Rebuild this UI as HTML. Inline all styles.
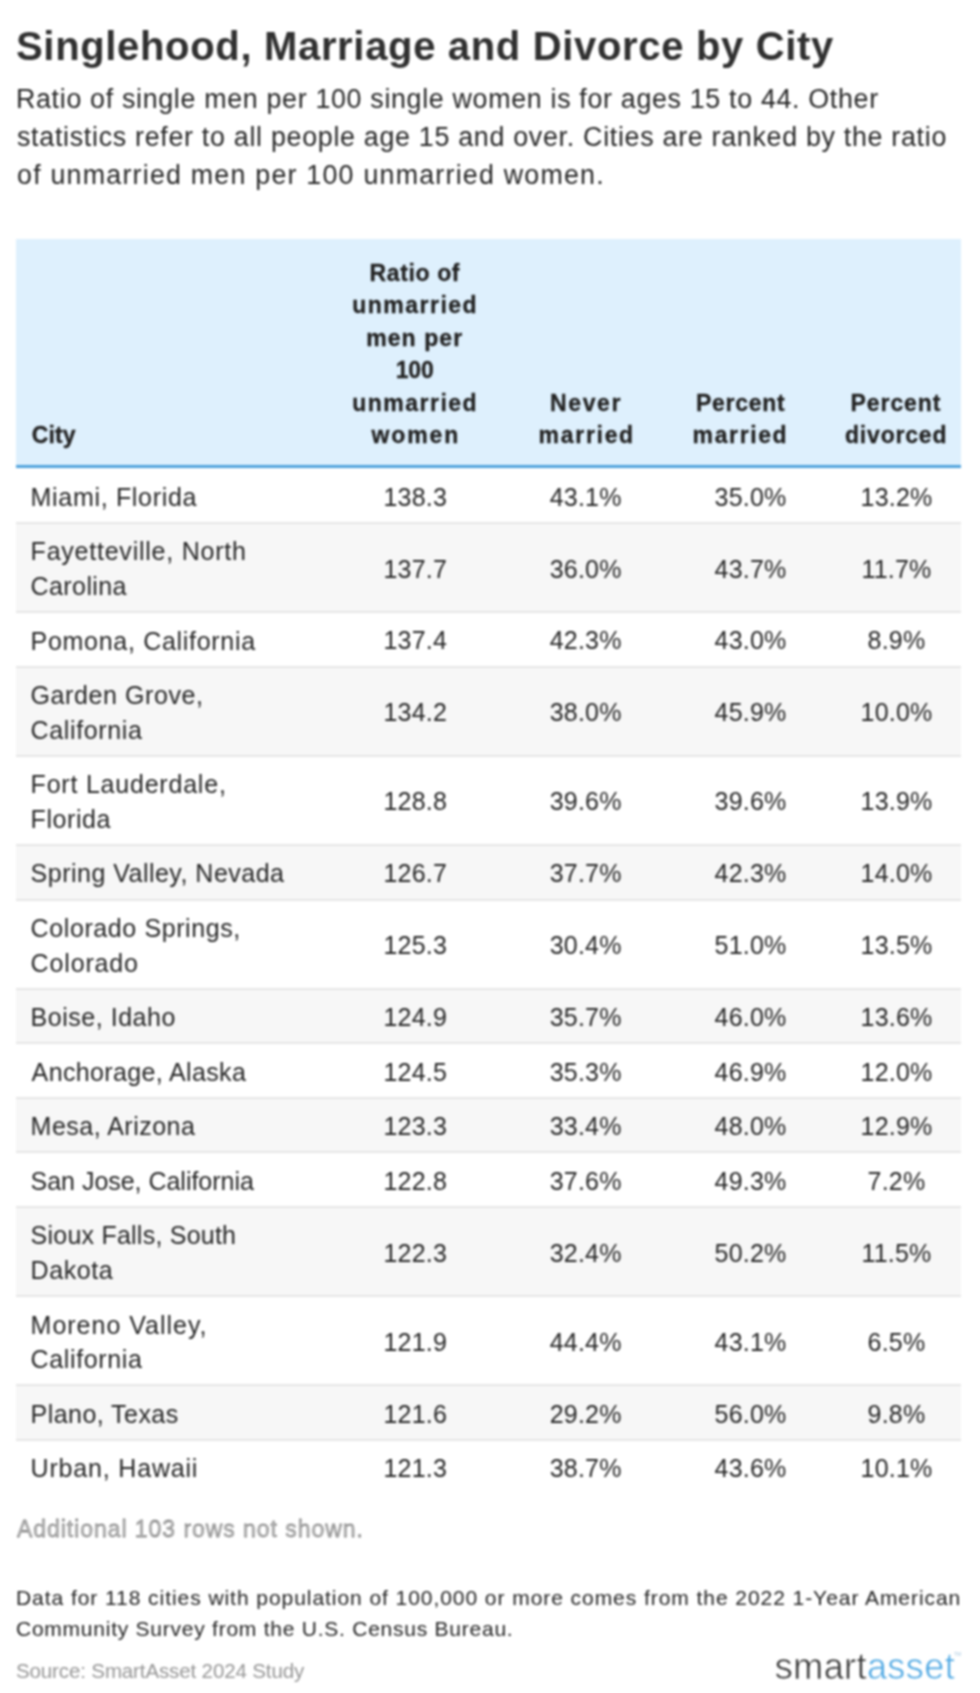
<!DOCTYPE html>
<html><head><meta charset="utf-8">
<style>
html,body{margin:0;padding:0;background:#fff;}
body{width:980px;height:1693px;position:relative;overflow:hidden;font-family:"Liberation Sans", sans-serif;}
.t{position:absolute;white-space:nowrap;}
#wrap{position:absolute;left:0;top:0;width:980px;height:1693px;}
#wrap.blur{filter:blur(0.8px);}
.logo{-webkit-text-stroke:0.6px #fff;}
.hb{-webkit-text-stroke:0.3px #222;}
</style></head><body><div id="wrap" class="blur">
<div style="position:absolute;left:16px;top:239px;width:945px;height:226px;background:#def0fd"></div>
<div style="position:absolute;left:954px;top:1652px;font-size:5px;line-height:5px;color:#a9c9e0;font-family:Liberation Sans,sans-serif">TM</div>
<div style="position:absolute;left:16px;top:465px;width:945px;height:3px;background:#4fa2dc"></div>
<div style="position:absolute;left:16px;top:523.00px;width:945px;height:89.14px;background:#f7f7f7"></div>
<div style="position:absolute;left:16px;top:666.71px;width:945px;height:89.14px;background:#f7f7f7"></div>
<div style="position:absolute;left:16px;top:844.99px;width:945px;height:54.57px;background:#f7f7f7"></div>
<div style="position:absolute;left:16px;top:988.70px;width:945px;height:54.57px;background:#f7f7f7"></div>
<div style="position:absolute;left:16px;top:1097.84px;width:945px;height:54.57px;background:#f7f7f7"></div>
<div style="position:absolute;left:16px;top:1206.98px;width:945px;height:89.14px;background:#f7f7f7"></div>
<div style="position:absolute;left:16px;top:1385.26px;width:945px;height:54.57px;background:#f7f7f7"></div>
<div style="position:absolute;left:16px;top:522.00px;width:945px;height:2px;background:#e6e6e6"></div>
<div style="position:absolute;left:16px;top:611.14px;width:945px;height:2px;background:#e6e6e6"></div>
<div style="position:absolute;left:16px;top:665.71px;width:945px;height:2px;background:#e6e6e6"></div>
<div style="position:absolute;left:16px;top:754.85px;width:945px;height:2px;background:#e6e6e6"></div>
<div style="position:absolute;left:16px;top:843.99px;width:945px;height:2px;background:#e6e6e6"></div>
<div style="position:absolute;left:16px;top:898.56px;width:945px;height:2px;background:#e6e6e6"></div>
<div style="position:absolute;left:16px;top:987.70px;width:945px;height:2px;background:#e6e6e6"></div>
<div style="position:absolute;left:16px;top:1042.27px;width:945px;height:2px;background:#e6e6e6"></div>
<div style="position:absolute;left:16px;top:1096.84px;width:945px;height:2px;background:#e6e6e6"></div>
<div style="position:absolute;left:16px;top:1151.41px;width:945px;height:2px;background:#e6e6e6"></div>
<div style="position:absolute;left:16px;top:1205.98px;width:945px;height:2px;background:#e6e6e6"></div>
<div style="position:absolute;left:16px;top:1295.12px;width:945px;height:2px;background:#e6e6e6"></div>
<div style="position:absolute;left:16px;top:1384.26px;width:945px;height:2px;background:#e6e6e6"></div>
<div style="position:absolute;left:16px;top:1438.83px;width:945px;height:2px;background:#e6e6e6"></div>
<div id="e0" class="t" style="top:25.94px;font-size:40px;line-height:40px;color:#303030;font-weight:700;letter-spacing:0.667px;left:16.00px;">Singlehood, Marriage and Divorce by City</div>
<div id="e1" class="t" style="top:85.81px;font-size:26.8px;line-height:26.8px;color:#262626;font-weight:400;letter-spacing:0.684px;left:16.00px;">Ratio of single men per 100 single women is for ages 15 to 44. Other</div>
<div id="e2" class="t" style="top:123.81px;font-size:26.8px;line-height:26.8px;color:#262626;font-weight:400;letter-spacing:0.714px;left:17.00px;">statistics refer to all people age 15 and over. Cities are ranked by the ratio</div>
<div id="e3" class="t" style="top:161.81px;font-size:26.8px;line-height:26.8px;color:#262626;font-weight:400;letter-spacing:1.225px;left:17.00px;">of unmarried men per 100 unmarried women.</div>
<div id="e4" class="t  hb" style="top:424.33px;font-size:23.0px;line-height:23.0px;color:#222;font-weight:700;letter-spacing:0.067px;left:31.80px;">City</div>
<div id="e5" class="t  hb" style="top:261.83px;font-size:23.0px;line-height:23.0px;color:#222;font-weight:700;letter-spacing:0.614px;left:369.60px;">Ratio of</div>
<div id="e6" class="t  hb" style="top:294.33px;font-size:23.0px;line-height:23.0px;color:#222;font-weight:700;letter-spacing:1.500px;left:352.20px;">unmarried</div>
<div id="e7" class="t  hb" style="top:326.83px;font-size:23.0px;line-height:23.0px;color:#222;font-weight:700;letter-spacing:1.083px;left:366.20px;">men per</div>
<div id="e8" class="t  hb" style="top:359.33px;font-size:23.0px;line-height:23.0px;color:#222;font-weight:700;letter-spacing:-0.250px;left:395.80px;">100</div>
<div id="e9" class="t  hb" style="top:391.83px;font-size:23.0px;line-height:23.0px;color:#222;font-weight:700;letter-spacing:1.500px;left:352.20px;">unmarried</div>
<div id="e10" class="t  hb" style="top:424.33px;font-size:23.0px;line-height:23.0px;color:#222;font-weight:700;letter-spacing:1.875px;left:371.60px;">women</div>
<div id="e11" class="t  hb" style="top:391.83px;font-size:23.0px;line-height:23.0px;color:#222;font-weight:700;letter-spacing:1.625px;left:550.00px;">Never</div>
<div id="e12" class="t  hb" style="top:424.33px;font-size:23.0px;line-height:23.0px;color:#222;font-weight:700;letter-spacing:1.700px;left:538.60px;">married</div>
<div id="e13" class="t  hb" style="top:391.83px;font-size:23.0px;line-height:23.0px;color:#222;font-weight:700;letter-spacing:0.733px;left:696.00px;">Percent</div>
<div id="e14" class="t  hb" style="top:424.33px;font-size:23.0px;line-height:23.0px;color:#222;font-weight:700;letter-spacing:1.617px;left:692.60px;">married</div>
<div id="e15" class="t  hb" style="top:391.83px;font-size:23.0px;line-height:23.0px;color:#222;font-weight:700;letter-spacing:0.900px;left:850.60px;">Percent</div>
<div id="e16" class="t  hb" style="top:424.33px;font-size:23.0px;line-height:23.0px;color:#222;font-weight:700;letter-spacing:0.800px;left:845.00px;">divorced</div>
<div id="e17" class="t" style="top:484.90px;font-size:25px;line-height:25px;color:#262626;font-weight:400;letter-spacing:0.677px;left:30.60px;">Miami, Florida</div>
<div id="e18" class="t" style="top:484.70px;font-size:25px;line-height:25px;color:#262626;font-weight:400;letter-spacing:0.200px;left:415.30px;transform:translateX(-50%);">138.3</div>
<div id="e19" class="t" style="top:484.70px;font-size:25px;line-height:25px;color:#262626;font-weight:400;letter-spacing:0.200px;left:585.70px;transform:translateX(-50%);">43.1%</div>
<div id="e20" class="t" style="top:484.70px;font-size:25px;line-height:25px;color:#262626;font-weight:400;letter-spacing:0.200px;right:193.50px;">35.0%</div>
<div id="e21" class="t" style="top:484.70px;font-size:25px;line-height:25px;color:#262626;font-weight:400;letter-spacing:0.200px;left:896.50px;transform:translateX(-50%);">13.2%</div>
<div id="e22" class="t" style="top:539.41px;font-size:25px;line-height:25px;color:#262626;font-weight:400;letter-spacing:0.772px;left:30.60px;">Fayetteville, North</div>
<div id="e23" class="t" style="top:574.11px;font-size:25px;line-height:25px;color:#262626;font-weight:400;letter-spacing:0.400px;left:30.60px;">Carolina</div>
<div id="e24" class="t" style="top:556.56px;font-size:25px;line-height:25px;color:#262626;font-weight:400;letter-spacing:0.200px;left:415.30px;transform:translateX(-50%);">137.7</div>
<div id="e25" class="t" style="top:556.56px;font-size:25px;line-height:25px;color:#262626;font-weight:400;letter-spacing:0.200px;left:585.70px;transform:translateX(-50%);">36.0%</div>
<div id="e26" class="t" style="top:556.56px;font-size:25px;line-height:25px;color:#262626;font-weight:400;letter-spacing:0.200px;right:193.50px;">43.7%</div>
<div id="e27" class="t" style="top:556.56px;font-size:25px;line-height:25px;color:#262626;font-weight:400;letter-spacing:0.200px;left:896.50px;transform:translateX(-50%);">11.7%</div>
<div id="e28" class="t" style="top:628.61px;font-size:25px;line-height:25px;color:#262626;font-weight:400;letter-spacing:0.700px;left:30.60px;">Pomona, California</div>
<div id="e29" class="t" style="top:628.41px;font-size:25px;line-height:25px;color:#262626;font-weight:400;letter-spacing:0.200px;left:415.30px;transform:translateX(-50%);">137.4</div>
<div id="e30" class="t" style="top:628.41px;font-size:25px;line-height:25px;color:#262626;font-weight:400;letter-spacing:0.200px;left:585.70px;transform:translateX(-50%);">42.3%</div>
<div id="e31" class="t" style="top:628.41px;font-size:25px;line-height:25px;color:#262626;font-weight:400;letter-spacing:0.200px;right:193.50px;">43.0%</div>
<div id="e32" class="t" style="top:628.41px;font-size:25px;line-height:25px;color:#262626;font-weight:400;letter-spacing:0.200px;left:896.50px;transform:translateX(-50%);">8.9%</div>
<div id="e33" class="t" style="top:683.12px;font-size:25px;line-height:25px;color:#262626;font-weight:400;letter-spacing:0.583px;left:30.60px;">Garden Grove,</div>
<div id="e34" class="t" style="top:717.82px;font-size:25px;line-height:25px;color:#262626;font-weight:400;letter-spacing:0.633px;left:30.60px;">California</div>
<div id="e35" class="t" style="top:700.27px;font-size:25px;line-height:25px;color:#262626;font-weight:400;letter-spacing:0.200px;left:415.30px;transform:translateX(-50%);">134.2</div>
<div id="e36" class="t" style="top:700.27px;font-size:25px;line-height:25px;color:#262626;font-weight:400;letter-spacing:0.200px;left:585.70px;transform:translateX(-50%);">38.0%</div>
<div id="e37" class="t" style="top:700.27px;font-size:25px;line-height:25px;color:#262626;font-weight:400;letter-spacing:0.200px;right:193.50px;">45.9%</div>
<div id="e38" class="t" style="top:700.27px;font-size:25px;line-height:25px;color:#262626;font-weight:400;letter-spacing:0.200px;left:896.50px;transform:translateX(-50%);">10.0%</div>
<div id="e39" class="t" style="top:772.26px;font-size:25px;line-height:25px;color:#262626;font-weight:400;letter-spacing:0.787px;left:30.60px;">Fort Lauderdale,</div>
<div id="e40" class="t" style="top:806.96px;font-size:25px;line-height:25px;color:#262626;font-weight:400;letter-spacing:0.583px;left:30.60px;">Florida</div>
<div id="e41" class="t" style="top:789.41px;font-size:25px;line-height:25px;color:#262626;font-weight:400;letter-spacing:0.200px;left:415.30px;transform:translateX(-50%);">128.8</div>
<div id="e42" class="t" style="top:789.41px;font-size:25px;line-height:25px;color:#262626;font-weight:400;letter-spacing:0.200px;left:585.70px;transform:translateX(-50%);">39.6%</div>
<div id="e43" class="t" style="top:789.41px;font-size:25px;line-height:25px;color:#262626;font-weight:400;letter-spacing:0.200px;right:193.50px;">39.6%</div>
<div id="e44" class="t" style="top:789.41px;font-size:25px;line-height:25px;color:#262626;font-weight:400;letter-spacing:0.200px;left:896.50px;transform:translateX(-50%);">13.9%</div>
<div id="e45" class="t" style="top:861.46px;font-size:25px;line-height:25px;color:#262626;font-weight:400;letter-spacing:0.485px;left:30.60px;">Spring Valley, Nevada</div>
<div id="e46" class="t" style="top:861.26px;font-size:25px;line-height:25px;color:#262626;font-weight:400;letter-spacing:0.200px;left:415.30px;transform:translateX(-50%);">126.7</div>
<div id="e47" class="t" style="top:861.26px;font-size:25px;line-height:25px;color:#262626;font-weight:400;letter-spacing:0.200px;left:585.70px;transform:translateX(-50%);">37.7%</div>
<div id="e48" class="t" style="top:861.26px;font-size:25px;line-height:25px;color:#262626;font-weight:400;letter-spacing:0.200px;right:193.50px;">42.3%</div>
<div id="e49" class="t" style="top:861.26px;font-size:25px;line-height:25px;color:#262626;font-weight:400;letter-spacing:0.200px;left:896.50px;transform:translateX(-50%);">14.0%</div>
<div id="e50" class="t" style="top:915.97px;font-size:25px;line-height:25px;color:#262626;font-weight:400;letter-spacing:0.600px;left:30.60px;">Colorado Springs,</div>
<div id="e51" class="t" style="top:950.67px;font-size:25px;line-height:25px;color:#262626;font-weight:400;letter-spacing:0.843px;left:30.60px;">Colorado</div>
<div id="e52" class="t" style="top:933.12px;font-size:25px;line-height:25px;color:#262626;font-weight:400;letter-spacing:0.200px;left:415.30px;transform:translateX(-50%);">125.3</div>
<div id="e53" class="t" style="top:933.12px;font-size:25px;line-height:25px;color:#262626;font-weight:400;letter-spacing:0.200px;left:585.70px;transform:translateX(-50%);">30.4%</div>
<div id="e54" class="t" style="top:933.12px;font-size:25px;line-height:25px;color:#262626;font-weight:400;letter-spacing:0.200px;right:193.50px;">51.0%</div>
<div id="e55" class="t" style="top:933.12px;font-size:25px;line-height:25px;color:#262626;font-weight:400;letter-spacing:0.200px;left:896.50px;transform:translateX(-50%);">13.5%</div>
<div id="e56" class="t" style="top:1005.17px;font-size:25px;line-height:25px;color:#262626;font-weight:400;letter-spacing:0.527px;left:30.60px;">Boise, Idaho</div>
<div id="e57" class="t" style="top:1004.97px;font-size:25px;line-height:25px;color:#262626;font-weight:400;letter-spacing:0.200px;left:415.30px;transform:translateX(-50%);">124.9</div>
<div id="e58" class="t" style="top:1004.97px;font-size:25px;line-height:25px;color:#262626;font-weight:400;letter-spacing:0.200px;left:585.70px;transform:translateX(-50%);">35.7%</div>
<div id="e59" class="t" style="top:1004.97px;font-size:25px;line-height:25px;color:#262626;font-weight:400;letter-spacing:0.200px;right:193.50px;">46.0%</div>
<div id="e60" class="t" style="top:1004.97px;font-size:25px;line-height:25px;color:#262626;font-weight:400;letter-spacing:0.200px;left:896.50px;transform:translateX(-50%);">13.6%</div>
<div id="e61" class="t" style="top:1059.74px;font-size:25px;line-height:25px;color:#262626;font-weight:400;letter-spacing:0.362px;left:31.60px;">Anchorage, Alaska</div>
<div id="e62" class="t" style="top:1059.54px;font-size:25px;line-height:25px;color:#262626;font-weight:400;letter-spacing:0.200px;left:415.30px;transform:translateX(-50%);">124.5</div>
<div id="e63" class="t" style="top:1059.54px;font-size:25px;line-height:25px;color:#262626;font-weight:400;letter-spacing:0.200px;left:585.70px;transform:translateX(-50%);">35.3%</div>
<div id="e64" class="t" style="top:1059.54px;font-size:25px;line-height:25px;color:#262626;font-weight:400;letter-spacing:0.200px;right:193.50px;">46.9%</div>
<div id="e65" class="t" style="top:1059.54px;font-size:25px;line-height:25px;color:#262626;font-weight:400;letter-spacing:0.200px;left:896.50px;transform:translateX(-50%);">12.0%</div>
<div id="e66" class="t" style="top:1114.31px;font-size:25px;line-height:25px;color:#262626;font-weight:400;letter-spacing:0.492px;left:30.60px;">Mesa, Arizona</div>
<div id="e67" class="t" style="top:1114.11px;font-size:25px;line-height:25px;color:#262626;font-weight:400;letter-spacing:0.200px;left:415.30px;transform:translateX(-50%);">123.3</div>
<div id="e68" class="t" style="top:1114.11px;font-size:25px;line-height:25px;color:#262626;font-weight:400;letter-spacing:0.200px;left:585.70px;transform:translateX(-50%);">33.4%</div>
<div id="e69" class="t" style="top:1114.11px;font-size:25px;line-height:25px;color:#262626;font-weight:400;letter-spacing:0.200px;right:193.50px;">48.0%</div>
<div id="e70" class="t" style="top:1114.11px;font-size:25px;line-height:25px;color:#262626;font-weight:400;letter-spacing:0.200px;left:896.50px;transform:translateX(-50%);">12.9%</div>
<div id="e71" class="t" style="top:1168.88px;font-size:25px;line-height:25px;color:#262626;font-weight:400;letter-spacing:-0.026px;left:30.60px;">San Jose, California</div>
<div id="e72" class="t" style="top:1168.68px;font-size:25px;line-height:25px;color:#262626;font-weight:400;letter-spacing:0.200px;left:415.30px;transform:translateX(-50%);">122.8</div>
<div id="e73" class="t" style="top:1168.68px;font-size:25px;line-height:25px;color:#262626;font-weight:400;letter-spacing:0.200px;left:585.70px;transform:translateX(-50%);">37.6%</div>
<div id="e74" class="t" style="top:1168.68px;font-size:25px;line-height:25px;color:#262626;font-weight:400;letter-spacing:0.200px;right:193.50px;">49.3%</div>
<div id="e75" class="t" style="top:1168.68px;font-size:25px;line-height:25px;color:#262626;font-weight:400;letter-spacing:0.200px;left:896.50px;transform:translateX(-50%);">7.2%</div>
<div id="e76" class="t" style="top:1223.39px;font-size:25px;line-height:25px;color:#262626;font-weight:400;letter-spacing:0.229px;left:30.60px;">Sioux Falls, South</div>
<div id="e77" class="t" style="top:1258.09px;font-size:25px;line-height:25px;color:#262626;font-weight:400;letter-spacing:0.580px;left:30.60px;">Dakota</div>
<div id="e78" class="t" style="top:1240.54px;font-size:25px;line-height:25px;color:#262626;font-weight:400;letter-spacing:0.200px;left:415.30px;transform:translateX(-50%);">122.3</div>
<div id="e79" class="t" style="top:1240.54px;font-size:25px;line-height:25px;color:#262626;font-weight:400;letter-spacing:0.200px;left:585.70px;transform:translateX(-50%);">32.4%</div>
<div id="e80" class="t" style="top:1240.54px;font-size:25px;line-height:25px;color:#262626;font-weight:400;letter-spacing:0.200px;right:193.50px;">50.2%</div>
<div id="e81" class="t" style="top:1240.54px;font-size:25px;line-height:25px;color:#262626;font-weight:400;letter-spacing:0.200px;left:896.50px;transform:translateX(-50%);">11.5%</div>
<div id="e82" class="t" style="top:1312.53px;font-size:25px;line-height:25px;color:#262626;font-weight:400;letter-spacing:0.992px;left:30.60px;">Moreno Valley,</div>
<div id="e83" class="t" style="top:1347.23px;font-size:25px;line-height:25px;color:#262626;font-weight:400;letter-spacing:0.633px;left:30.60px;">California</div>
<div id="e84" class="t" style="top:1329.68px;font-size:25px;line-height:25px;color:#262626;font-weight:400;letter-spacing:0.200px;left:415.30px;transform:translateX(-50%);">121.9</div>
<div id="e85" class="t" style="top:1329.68px;font-size:25px;line-height:25px;color:#262626;font-weight:400;letter-spacing:0.200px;left:585.70px;transform:translateX(-50%);">44.4%</div>
<div id="e86" class="t" style="top:1329.68px;font-size:25px;line-height:25px;color:#262626;font-weight:400;letter-spacing:0.200px;right:193.50px;">43.1%</div>
<div id="e87" class="t" style="top:1329.68px;font-size:25px;line-height:25px;color:#262626;font-weight:400;letter-spacing:0.200px;left:896.50px;transform:translateX(-50%);">6.5%</div>
<div id="e88" class="t" style="top:1401.73px;font-size:25px;line-height:25px;color:#262626;font-weight:400;letter-spacing:0.445px;left:30.60px;">Plano, Texas</div>
<div id="e89" class="t" style="top:1401.53px;font-size:25px;line-height:25px;color:#262626;font-weight:400;letter-spacing:0.200px;left:415.30px;transform:translateX(-50%);">121.6</div>
<div id="e90" class="t" style="top:1401.53px;font-size:25px;line-height:25px;color:#262626;font-weight:400;letter-spacing:0.200px;left:585.70px;transform:translateX(-50%);">29.2%</div>
<div id="e91" class="t" style="top:1401.53px;font-size:25px;line-height:25px;color:#262626;font-weight:400;letter-spacing:0.200px;right:193.50px;">56.0%</div>
<div id="e92" class="t" style="top:1401.53px;font-size:25px;line-height:25px;color:#262626;font-weight:400;letter-spacing:0.200px;left:896.50px;transform:translateX(-50%);">9.8%</div>
<div id="e93" class="t" style="top:1456.30px;font-size:25px;line-height:25px;color:#262626;font-weight:400;letter-spacing:0.817px;left:30.60px;">Urban, Hawaii</div>
<div id="e94" class="t" style="top:1456.10px;font-size:25px;line-height:25px;color:#262626;font-weight:400;letter-spacing:0.200px;left:415.30px;transform:translateX(-50%);">121.3</div>
<div id="e95" class="t" style="top:1456.10px;font-size:25px;line-height:25px;color:#262626;font-weight:400;letter-spacing:0.200px;left:585.70px;transform:translateX(-50%);">38.7%</div>
<div id="e96" class="t" style="top:1456.10px;font-size:25px;line-height:25px;color:#262626;font-weight:400;letter-spacing:0.200px;right:193.50px;">43.6%</div>
<div id="e97" class="t" style="top:1456.10px;font-size:25px;line-height:25px;color:#262626;font-weight:400;letter-spacing:0.200px;left:896.50px;transform:translateX(-50%);">10.1%</div>
<div id="e98" class="t  hb" style="top:1518.33px;font-size:23px;line-height:23px;color:#bdbdbd;font-weight:400;letter-spacing:0.948px;left:17.00px;">Additional 103 rows not shown.</div>
<div id="e99" class="t" style="top:1587.22px;font-size:21px;line-height:21px;color:#222;font-weight:400;letter-spacing:0.943px;left:16.00px;">Data for 118 cities with population of 100,000 or more comes from the 2022 1-Year American</div>
<div id="e100" class="t" style="top:1617.92px;font-size:21px;line-height:21px;color:#222;font-weight:400;letter-spacing:0.757px;left:16.00px;">Community Survey from the U.S. Census Bureau.</div>
<div id="e101" class="t" style="top:1661.25px;font-size:20.5px;line-height:20.5px;color:#959595;font-weight:400;letter-spacing:-0.125px;left:16.00px;">Source: SmartAsset 2024 Study</div>
<div id="e102" class="t logo" style="top:1648.83px;font-size:36px;line-height:36px;color:#555;font-weight:400;letter-spacing:0.422px;left:774.80px;"><span style="color:#333">smart</span><span style="color:#4fa8e3">asset</span></div>
</div></body></html>
